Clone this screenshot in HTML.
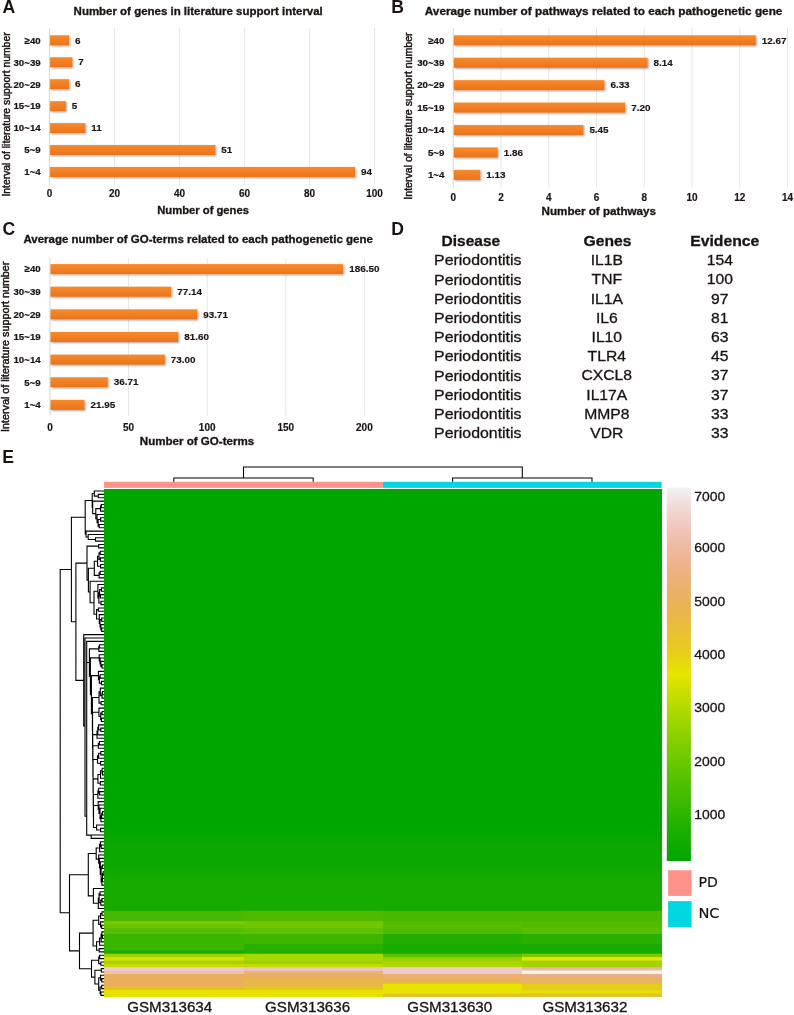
<!DOCTYPE html>
<html><head><meta charset="utf-8"><title>Figure</title><style>html,body{margin:0;padding:0;background:#fff}svg{display:block}</style></head><body>
<svg width="794" height="1015" viewBox="0 0 794 1015">
<defs>
<linearGradient id="bar" x1="0" y1="0" x2="0" y2="1"><stop offset="0" stop-color="#f68a2e"/><stop offset="0.5" stop-color="#f27f22"/><stop offset="1" stop-color="#e9741c"/></linearGradient>
<filter id="sh" x="-5%" y="-30%" width="110%" height="180%"><feGaussianBlur in="SourceAlpha" stdDeviation="0.9"/><feOffset dx="0.6" dy="1.2" result="o"/><feComponentTransfer><feFuncA type="linear" slope="0.38"/></feComponentTransfer><feMerge><feMergeNode/><feMergeNode in="SourceGraphic"/></feMerge></filter>
</defs>
<rect width="794" height="1015" fill="#fff"/>
<line x1="49.60" y1="28" x2="49.60" y2="185.6" stroke="#d6d6d6" stroke-width="1"/>
<line x1="114.60" y1="28" x2="114.60" y2="185.6" stroke="#e6e6e6" stroke-width="1"/>
<line x1="179.60" y1="28" x2="179.60" y2="185.6" stroke="#e6e6e6" stroke-width="1"/>
<line x1="244.60" y1="28" x2="244.60" y2="185.6" stroke="#e6e6e6" stroke-width="1"/>
<line x1="309.60" y1="28" x2="309.60" y2="185.6" stroke="#e6e6e6" stroke-width="1"/>
<line x1="374.60" y1="28" x2="374.60" y2="185.6" stroke="#e6e6e6" stroke-width="1"/>
<g filter="url(#sh)">
<rect x="50.10" y="35.30" width="19.00" height="10" fill="url(#bar)"/>
<rect x="50.10" y="57.25" width="22.25" height="10" fill="url(#bar)"/>
<rect x="50.10" y="79.20" width="19.00" height="10" fill="url(#bar)"/>
<rect x="50.10" y="101.15" width="15.75" height="10" fill="url(#bar)"/>
<rect x="50.10" y="123.10" width="35.25" height="10" fill="url(#bar)"/>
<rect x="50.10" y="145.05" width="165.25" height="10" fill="url(#bar)"/>
<rect x="50.10" y="167.00" width="305.00" height="10" fill="url(#bar)"/>
</g>
<text x="75.10" y="43.50" font-size="9.9" font-family='"Liberation Sans", Arial, Helvetica, sans-serif' fill="#1a1311" font-weight="bold" stroke="#1a1311" stroke-width="0.15">6</text>
<text x="40.70" y="43.60" font-size="9.7" font-family='"Liberation Sans", Arial, Helvetica, sans-serif' fill="#1a1311" font-weight="bold" text-anchor="end" stroke="#1a1311" stroke-width="0.2">≥40</text>
<text x="78.35" y="65.45" font-size="9.9" font-family='"Liberation Sans", Arial, Helvetica, sans-serif' fill="#1a1311" font-weight="bold" stroke="#1a1311" stroke-width="0.15">7</text>
<text x="40.70" y="65.55" font-size="9.7" font-family='"Liberation Sans", Arial, Helvetica, sans-serif' fill="#1a1311" font-weight="bold" text-anchor="end" stroke="#1a1311" stroke-width="0.2">30~39</text>
<text x="75.10" y="87.40" font-size="9.9" font-family='"Liberation Sans", Arial, Helvetica, sans-serif' fill="#1a1311" font-weight="bold" stroke="#1a1311" stroke-width="0.15">6</text>
<text x="40.70" y="87.50" font-size="9.7" font-family='"Liberation Sans", Arial, Helvetica, sans-serif' fill="#1a1311" font-weight="bold" text-anchor="end" stroke="#1a1311" stroke-width="0.2">20~29</text>
<text x="71.85" y="109.35" font-size="9.9" font-family='"Liberation Sans", Arial, Helvetica, sans-serif' fill="#1a1311" font-weight="bold" stroke="#1a1311" stroke-width="0.15">5</text>
<text x="40.70" y="109.45" font-size="9.7" font-family='"Liberation Sans", Arial, Helvetica, sans-serif' fill="#1a1311" font-weight="bold" text-anchor="end" stroke="#1a1311" stroke-width="0.2">15~19</text>
<text x="91.35" y="131.30" font-size="9.9" font-family='"Liberation Sans", Arial, Helvetica, sans-serif' fill="#1a1311" font-weight="bold" stroke="#1a1311" stroke-width="0.15">11</text>
<text x="40.70" y="131.40" font-size="9.7" font-family='"Liberation Sans", Arial, Helvetica, sans-serif' fill="#1a1311" font-weight="bold" text-anchor="end" stroke="#1a1311" stroke-width="0.2">10~14</text>
<text x="221.35" y="153.25" font-size="9.9" font-family='"Liberation Sans", Arial, Helvetica, sans-serif' fill="#1a1311" font-weight="bold" stroke="#1a1311" stroke-width="0.15">51</text>
<text x="40.70" y="153.35" font-size="9.7" font-family='"Liberation Sans", Arial, Helvetica, sans-serif' fill="#1a1311" font-weight="bold" text-anchor="end" stroke="#1a1311" stroke-width="0.2">5~9</text>
<text x="361.10" y="175.20" font-size="9.9" font-family='"Liberation Sans", Arial, Helvetica, sans-serif' fill="#1a1311" font-weight="bold" stroke="#1a1311" stroke-width="0.15">94</text>
<text x="40.70" y="175.30" font-size="9.7" font-family='"Liberation Sans", Arial, Helvetica, sans-serif' fill="#1a1311" font-weight="bold" text-anchor="end" stroke="#1a1311" stroke-width="0.2">1~4</text>
<text x="49.60" y="197.30" font-size="10" font-family='"Liberation Sans", Arial, Helvetica, sans-serif' fill="#1a1311" font-weight="bold" text-anchor="middle" stroke="#1a1311" stroke-width="0.15">0</text>
<text x="114.60" y="197.30" font-size="10" font-family='"Liberation Sans", Arial, Helvetica, sans-serif' fill="#1a1311" font-weight="bold" text-anchor="middle" stroke="#1a1311" stroke-width="0.15">20</text>
<text x="179.60" y="197.30" font-size="10" font-family='"Liberation Sans", Arial, Helvetica, sans-serif' fill="#1a1311" font-weight="bold" text-anchor="middle" stroke="#1a1311" stroke-width="0.15">40</text>
<text x="244.60" y="197.30" font-size="10" font-family='"Liberation Sans", Arial, Helvetica, sans-serif' fill="#1a1311" font-weight="bold" text-anchor="middle" stroke="#1a1311" stroke-width="0.15">60</text>
<text x="309.60" y="197.30" font-size="10" font-family='"Liberation Sans", Arial, Helvetica, sans-serif' fill="#1a1311" font-weight="bold" text-anchor="middle" stroke="#1a1311" stroke-width="0.15">80</text>
<text x="374.60" y="197.30" font-size="10" font-family='"Liberation Sans", Arial, Helvetica, sans-serif' fill="#1a1311" font-weight="bold" text-anchor="middle" stroke="#1a1311" stroke-width="0.15">100</text>
<text x="73.60" y="15.10" font-size="10.5" font-family='"Liberation Sans", Arial, Helvetica, sans-serif' fill="#1a1311" font-weight="bold" textLength="249.20" lengthAdjust="spacingAndGlyphs" stroke="#1a1311" stroke-width="0.3">Number of genes in literature support interval</text>
<text x="203.10" y="214.00" font-size="10.5" font-family='"Liberation Sans", Arial, Helvetica, sans-serif' fill="#1a1311" font-weight="bold" text-anchor="middle" textLength="91.80" lengthAdjust="spacingAndGlyphs" stroke="#1a1311" stroke-width="0.3">Number of genes</text>
<text x="9.50" y="114.50" font-size="10.2" font-family='"Liberation Sans", Arial, Helvetica, sans-serif' fill="#1a1311" text-anchor="middle" textLength="164.20" lengthAdjust="spacingAndGlyphs" stroke="#1a1311" stroke-width="0.45" transform="rotate(-90 9.50 114.50)">Interval of literature support number</text>
<line x1="453.30" y1="28" x2="453.30" y2="187.5" stroke="#d6d6d6" stroke-width="1"/>
<line x1="501.04" y1="28" x2="501.04" y2="187.5" stroke="#e6e6e6" stroke-width="1"/>
<line x1="548.78" y1="28" x2="548.78" y2="187.5" stroke="#e6e6e6" stroke-width="1"/>
<line x1="596.52" y1="28" x2="596.52" y2="187.5" stroke="#e6e6e6" stroke-width="1"/>
<line x1="644.26" y1="28" x2="644.26" y2="187.5" stroke="#e6e6e6" stroke-width="1"/>
<line x1="692.00" y1="28" x2="692.00" y2="187.5" stroke="#e6e6e6" stroke-width="1"/>
<line x1="739.74" y1="28" x2="739.74" y2="187.5" stroke="#e6e6e6" stroke-width="1"/>
<line x1="787.48" y1="28" x2="787.48" y2="187.5" stroke="#e6e6e6" stroke-width="1"/>
<g filter="url(#sh)">
<rect x="453.80" y="35.30" width="301.93" height="10" fill="url(#bar)"/>
<rect x="453.80" y="57.73" width="193.80" height="10" fill="url(#bar)"/>
<rect x="453.80" y="80.16" width="150.60" height="10" fill="url(#bar)"/>
<rect x="453.80" y="102.59" width="171.36" height="10" fill="url(#bar)"/>
<rect x="453.80" y="125.02" width="129.59" height="10" fill="url(#bar)"/>
<rect x="453.80" y="147.45" width="43.90" height="10" fill="url(#bar)"/>
<rect x="453.80" y="169.88" width="26.47" height="10" fill="url(#bar)"/>
</g>
<text x="761.73" y="43.50" font-size="9.9" font-family='"Liberation Sans", Arial, Helvetica, sans-serif' fill="#1a1311" font-weight="bold" stroke="#1a1311" stroke-width="0.15">12.67</text>
<text x="444.40" y="43.60" font-size="9.7" font-family='"Liberation Sans", Arial, Helvetica, sans-serif' fill="#1a1311" font-weight="bold" text-anchor="end" stroke="#1a1311" stroke-width="0.2">≥40</text>
<text x="653.60" y="65.93" font-size="9.9" font-family='"Liberation Sans", Arial, Helvetica, sans-serif' fill="#1a1311" font-weight="bold" stroke="#1a1311" stroke-width="0.15">8.14</text>
<text x="444.40" y="66.03" font-size="9.7" font-family='"Liberation Sans", Arial, Helvetica, sans-serif' fill="#1a1311" font-weight="bold" text-anchor="end" stroke="#1a1311" stroke-width="0.2">30~39</text>
<text x="610.40" y="88.36" font-size="9.9" font-family='"Liberation Sans", Arial, Helvetica, sans-serif' fill="#1a1311" font-weight="bold" stroke="#1a1311" stroke-width="0.15">6.33</text>
<text x="444.40" y="88.46" font-size="9.7" font-family='"Liberation Sans", Arial, Helvetica, sans-serif' fill="#1a1311" font-weight="bold" text-anchor="end" stroke="#1a1311" stroke-width="0.2">20~29</text>
<text x="631.16" y="110.79" font-size="9.9" font-family='"Liberation Sans", Arial, Helvetica, sans-serif' fill="#1a1311" font-weight="bold" stroke="#1a1311" stroke-width="0.15">7.20</text>
<text x="444.40" y="110.89" font-size="9.7" font-family='"Liberation Sans", Arial, Helvetica, sans-serif' fill="#1a1311" font-weight="bold" text-anchor="end" stroke="#1a1311" stroke-width="0.2">15~19</text>
<text x="589.39" y="133.22" font-size="9.9" font-family='"Liberation Sans", Arial, Helvetica, sans-serif' fill="#1a1311" font-weight="bold" stroke="#1a1311" stroke-width="0.15">5.45</text>
<text x="444.40" y="133.32" font-size="9.7" font-family='"Liberation Sans", Arial, Helvetica, sans-serif' fill="#1a1311" font-weight="bold" text-anchor="end" stroke="#1a1311" stroke-width="0.2">10~14</text>
<text x="503.70" y="155.65" font-size="9.9" font-family='"Liberation Sans", Arial, Helvetica, sans-serif' fill="#1a1311" font-weight="bold" stroke="#1a1311" stroke-width="0.15">1.86</text>
<text x="444.40" y="155.75" font-size="9.7" font-family='"Liberation Sans", Arial, Helvetica, sans-serif' fill="#1a1311" font-weight="bold" text-anchor="end" stroke="#1a1311" stroke-width="0.2">5~9</text>
<text x="486.27" y="178.08" font-size="9.9" font-family='"Liberation Sans", Arial, Helvetica, sans-serif' fill="#1a1311" font-weight="bold" stroke="#1a1311" stroke-width="0.15">1.13</text>
<text x="444.40" y="178.18" font-size="9.7" font-family='"Liberation Sans", Arial, Helvetica, sans-serif' fill="#1a1311" font-weight="bold" text-anchor="end" stroke="#1a1311" stroke-width="0.2">1~4</text>
<text x="453.30" y="200.90" font-size="10" font-family='"Liberation Sans", Arial, Helvetica, sans-serif' fill="#1a1311" font-weight="bold" text-anchor="middle" stroke="#1a1311" stroke-width="0.15">0</text>
<text x="501.04" y="200.90" font-size="10" font-family='"Liberation Sans", Arial, Helvetica, sans-serif' fill="#1a1311" font-weight="bold" text-anchor="middle" stroke="#1a1311" stroke-width="0.15">2</text>
<text x="548.78" y="200.90" font-size="10" font-family='"Liberation Sans", Arial, Helvetica, sans-serif' fill="#1a1311" font-weight="bold" text-anchor="middle" stroke="#1a1311" stroke-width="0.15">4</text>
<text x="596.52" y="200.90" font-size="10" font-family='"Liberation Sans", Arial, Helvetica, sans-serif' fill="#1a1311" font-weight="bold" text-anchor="middle" stroke="#1a1311" stroke-width="0.15">6</text>
<text x="644.26" y="200.90" font-size="10" font-family='"Liberation Sans", Arial, Helvetica, sans-serif' fill="#1a1311" font-weight="bold" text-anchor="middle" stroke="#1a1311" stroke-width="0.15">8</text>
<text x="692.00" y="200.90" font-size="10" font-family='"Liberation Sans", Arial, Helvetica, sans-serif' fill="#1a1311" font-weight="bold" text-anchor="middle" stroke="#1a1311" stroke-width="0.15">10</text>
<text x="739.74" y="200.90" font-size="10" font-family='"Liberation Sans", Arial, Helvetica, sans-serif' fill="#1a1311" font-weight="bold" text-anchor="middle" stroke="#1a1311" stroke-width="0.15">12</text>
<text x="787.48" y="200.90" font-size="10" font-family='"Liberation Sans", Arial, Helvetica, sans-serif' fill="#1a1311" font-weight="bold" text-anchor="middle" stroke="#1a1311" stroke-width="0.15">14</text>
<text x="424.80" y="15.10" font-size="10.5" font-family='"Liberation Sans", Arial, Helvetica, sans-serif' fill="#1a1311" font-weight="bold" textLength="357.60" lengthAdjust="spacingAndGlyphs" stroke="#1a1311" stroke-width="0.3">Average number of pathways related to each pathogenetic gene</text>
<text x="598.80" y="215.20" font-size="10.5" font-family='"Liberation Sans", Arial, Helvetica, sans-serif' fill="#1a1311" font-weight="bold" text-anchor="middle" textLength="114.40" lengthAdjust="spacingAndGlyphs" stroke="#1a1311" stroke-width="0.3">Number of pathways</text>
<text x="412.00" y="116.00" font-size="10.2" font-family='"Liberation Sans", Arial, Helvetica, sans-serif' fill="#1a1311" text-anchor="middle" textLength="167.30" lengthAdjust="spacingAndGlyphs" stroke="#1a1311" stroke-width="0.45" transform="rotate(-90 412.00 116.00)">Interval of literature support number</text>
<line x1="50.00" y1="258" x2="50.00" y2="415.6" stroke="#d6d6d6" stroke-width="1"/>
<line x1="128.60" y1="258" x2="128.60" y2="415.6" stroke="#e6e6e6" stroke-width="1"/>
<line x1="207.20" y1="258" x2="207.20" y2="415.6" stroke="#e6e6e6" stroke-width="1"/>
<line x1="285.80" y1="258" x2="285.80" y2="415.6" stroke="#e6e6e6" stroke-width="1"/>
<line x1="364.40" y1="258" x2="364.40" y2="415.6" stroke="#e6e6e6" stroke-width="1"/>
<g filter="url(#sh)">
<rect x="50.50" y="264.10" width="292.68" height="10" fill="url(#bar)"/>
<rect x="50.50" y="286.73" width="120.76" height="10" fill="url(#bar)"/>
<rect x="50.50" y="309.36" width="146.81" height="10" fill="url(#bar)"/>
<rect x="50.50" y="331.99" width="127.78" height="10" fill="url(#bar)"/>
<rect x="50.50" y="354.62" width="114.26" height="10" fill="url(#bar)"/>
<rect x="50.50" y="377.25" width="57.21" height="10" fill="url(#bar)"/>
<rect x="50.50" y="399.88" width="34.01" height="10" fill="url(#bar)"/>
</g>
<text x="349.18" y="272.30" font-size="9.9" font-family='"Liberation Sans", Arial, Helvetica, sans-serif' fill="#1a1311" font-weight="bold" stroke="#1a1311" stroke-width="0.15">186.50</text>
<text x="40.70" y="272.40" font-size="9.7" font-family='"Liberation Sans", Arial, Helvetica, sans-serif' fill="#1a1311" font-weight="bold" text-anchor="end" stroke="#1a1311" stroke-width="0.2">≥40</text>
<text x="177.26" y="294.93" font-size="9.9" font-family='"Liberation Sans", Arial, Helvetica, sans-serif' fill="#1a1311" font-weight="bold" stroke="#1a1311" stroke-width="0.15">77.14</text>
<text x="40.70" y="295.03" font-size="9.7" font-family='"Liberation Sans", Arial, Helvetica, sans-serif' fill="#1a1311" font-weight="bold" text-anchor="end" stroke="#1a1311" stroke-width="0.2">30~39</text>
<text x="203.31" y="317.56" font-size="9.9" font-family='"Liberation Sans", Arial, Helvetica, sans-serif' fill="#1a1311" font-weight="bold" stroke="#1a1311" stroke-width="0.15">93.71</text>
<text x="40.70" y="317.66" font-size="9.7" font-family='"Liberation Sans", Arial, Helvetica, sans-serif' fill="#1a1311" font-weight="bold" text-anchor="end" stroke="#1a1311" stroke-width="0.2">20~29</text>
<text x="184.28" y="340.19" font-size="9.9" font-family='"Liberation Sans", Arial, Helvetica, sans-serif' fill="#1a1311" font-weight="bold" stroke="#1a1311" stroke-width="0.15">81.60</text>
<text x="40.70" y="340.29" font-size="9.7" font-family='"Liberation Sans", Arial, Helvetica, sans-serif' fill="#1a1311" font-weight="bold" text-anchor="end" stroke="#1a1311" stroke-width="0.2">15~19</text>
<text x="170.76" y="362.82" font-size="9.9" font-family='"Liberation Sans", Arial, Helvetica, sans-serif' fill="#1a1311" font-weight="bold" stroke="#1a1311" stroke-width="0.15">73.00</text>
<text x="40.70" y="362.92" font-size="9.7" font-family='"Liberation Sans", Arial, Helvetica, sans-serif' fill="#1a1311" font-weight="bold" text-anchor="end" stroke="#1a1311" stroke-width="0.2">10~14</text>
<text x="113.71" y="385.45" font-size="9.9" font-family='"Liberation Sans", Arial, Helvetica, sans-serif' fill="#1a1311" font-weight="bold" stroke="#1a1311" stroke-width="0.15">36.71</text>
<text x="40.70" y="385.55" font-size="9.7" font-family='"Liberation Sans", Arial, Helvetica, sans-serif' fill="#1a1311" font-weight="bold" text-anchor="end" stroke="#1a1311" stroke-width="0.2">5~9</text>
<text x="90.51" y="408.08" font-size="9.9" font-family='"Liberation Sans", Arial, Helvetica, sans-serif' fill="#1a1311" font-weight="bold" stroke="#1a1311" stroke-width="0.15">21.95</text>
<text x="40.70" y="408.18" font-size="9.7" font-family='"Liberation Sans", Arial, Helvetica, sans-serif' fill="#1a1311" font-weight="bold" text-anchor="end" stroke="#1a1311" stroke-width="0.2">1~4</text>
<text x="50.00" y="431.00" font-size="10" font-family='"Liberation Sans", Arial, Helvetica, sans-serif' fill="#1a1311" font-weight="bold" text-anchor="middle" stroke="#1a1311" stroke-width="0.15">0</text>
<text x="128.60" y="431.00" font-size="10" font-family='"Liberation Sans", Arial, Helvetica, sans-serif' fill="#1a1311" font-weight="bold" text-anchor="middle" stroke="#1a1311" stroke-width="0.15">50</text>
<text x="207.20" y="431.00" font-size="10" font-family='"Liberation Sans", Arial, Helvetica, sans-serif' fill="#1a1311" font-weight="bold" text-anchor="middle" stroke="#1a1311" stroke-width="0.15">100</text>
<text x="285.80" y="431.00" font-size="10" font-family='"Liberation Sans", Arial, Helvetica, sans-serif' fill="#1a1311" font-weight="bold" text-anchor="middle" stroke="#1a1311" stroke-width="0.15">150</text>
<text x="364.40" y="431.00" font-size="10" font-family='"Liberation Sans", Arial, Helvetica, sans-serif' fill="#1a1311" font-weight="bold" text-anchor="middle" stroke="#1a1311" stroke-width="0.15">200</text>
<text x="23.40" y="242.50" font-size="10.5" font-family='"Liberation Sans", Arial, Helvetica, sans-serif' fill="#1a1311" font-weight="bold" textLength="349.40" lengthAdjust="spacingAndGlyphs" stroke="#1a1311" stroke-width="0.3">Average number of GO-terms related to each pathogenetic gene</text>
<text x="197.00" y="445.00" font-size="10.5" font-family='"Liberation Sans", Arial, Helvetica, sans-serif' fill="#1a1311" font-weight="bold" text-anchor="middle" textLength="114.40" lengthAdjust="spacingAndGlyphs" stroke="#1a1311" stroke-width="0.3">Number of GO-terms</text>
<text x="9.50" y="346.80" font-size="10.2" font-family='"Liberation Sans", Arial, Helvetica, sans-serif' fill="#1a1311" text-anchor="middle" textLength="170.40" lengthAdjust="spacingAndGlyphs" stroke="#1a1311" stroke-width="0.45" transform="rotate(-90 9.50 346.80)">Interval of literature support number</text>
<text x="2.60" y="13.40" font-size="17.6" font-family='"Liberation Sans", Arial, Helvetica, sans-serif' fill="#1a1311" font-weight="bold">A</text>
<text x="391.30" y="13.00" font-size="17.6" font-family='"Liberation Sans", Arial, Helvetica, sans-serif' fill="#1a1311" font-weight="bold">B</text>
<text x="2.40" y="234.80" font-size="17.6" font-family='"Liberation Sans", Arial, Helvetica, sans-serif' fill="#1a1311" font-weight="bold">C</text>
<text x="391.30" y="234.80" font-size="17.6" font-family='"Liberation Sans", Arial, Helvetica, sans-serif' fill="#1a1311" font-weight="bold">D</text>
<text x="2.30" y="463.20" font-size="17.6" font-family='"Liberation Sans", Arial, Helvetica, sans-serif' fill="#1a1311" font-weight="bold">E</text>
<text x="441.60" y="246.40" font-size="14.6" font-family='"Liberation Sans", Arial, Helvetica, sans-serif' fill="#1a1311" font-weight="bold" textLength="58.60" lengthAdjust="spacingAndGlyphs" stroke="#1a1311" stroke-width="0.3">Disease</text>
<text x="583.50" y="246.40" font-size="14.6" font-family='"Liberation Sans", Arial, Helvetica, sans-serif' fill="#1a1311" font-weight="bold" textLength="48.00" lengthAdjust="spacingAndGlyphs" stroke="#1a1311" stroke-width="0.3">Genes</text>
<text x="690.20" y="246.40" font-size="14.6" font-family='"Liberation Sans", Arial, Helvetica, sans-serif' fill="#1a1311" font-weight="bold" textLength="69.20" lengthAdjust="spacingAndGlyphs" stroke="#1a1311" stroke-width="0.3">Evidence</text>
<text x="434.10" y="265.30" font-size="14.4" font-family='"Liberation Sans", Arial, Helvetica, sans-serif' fill="#1a1311" textLength="87.40" lengthAdjust="spacingAndGlyphs" stroke="#1a1311" stroke-width="0.3">Periodontitis</text>
<text x="606.80" y="265.30" font-size="14.4" font-family='"Liberation Sans", Arial, Helvetica, sans-serif' fill="#1a1311" text-anchor="middle" stroke="#1a1311" stroke-width="0.3" transform="translate(606.8 0) scale(1.09 1) translate(-606.8 0)">IL1B</text>
<text x="719.80" y="265.30" font-size="14.4" font-family='"Liberation Sans", Arial, Helvetica, sans-serif' fill="#1a1311" text-anchor="middle" stroke="#1a1311" stroke-width="0.3" transform="translate(719.8 0) scale(1.09 1) translate(-719.8 0)">154</text>
<text x="434.10" y="284.50" font-size="14.4" font-family='"Liberation Sans", Arial, Helvetica, sans-serif' fill="#1a1311" textLength="87.40" lengthAdjust="spacingAndGlyphs" stroke="#1a1311" stroke-width="0.3">Periodontitis</text>
<text x="606.80" y="284.50" font-size="14.4" font-family='"Liberation Sans", Arial, Helvetica, sans-serif' fill="#1a1311" text-anchor="middle" stroke="#1a1311" stroke-width="0.3" transform="translate(606.8 0) scale(1.09 1) translate(-606.8 0)">TNF</text>
<text x="719.80" y="284.50" font-size="14.4" font-family='"Liberation Sans", Arial, Helvetica, sans-serif' fill="#1a1311" text-anchor="middle" stroke="#1a1311" stroke-width="0.3" transform="translate(719.8 0) scale(1.09 1) translate(-719.8 0)">100</text>
<text x="434.10" y="303.70" font-size="14.4" font-family='"Liberation Sans", Arial, Helvetica, sans-serif' fill="#1a1311" textLength="87.40" lengthAdjust="spacingAndGlyphs" stroke="#1a1311" stroke-width="0.3">Periodontitis</text>
<text x="606.80" y="303.70" font-size="14.4" font-family='"Liberation Sans", Arial, Helvetica, sans-serif' fill="#1a1311" text-anchor="middle" stroke="#1a1311" stroke-width="0.3" transform="translate(606.8 0) scale(1.09 1) translate(-606.8 0)">IL1A</text>
<text x="719.80" y="303.70" font-size="14.4" font-family='"Liberation Sans", Arial, Helvetica, sans-serif' fill="#1a1311" text-anchor="middle" stroke="#1a1311" stroke-width="0.3" transform="translate(719.8 0) scale(1.09 1) translate(-719.8 0)">97</text>
<text x="434.10" y="322.90" font-size="14.4" font-family='"Liberation Sans", Arial, Helvetica, sans-serif' fill="#1a1311" textLength="87.40" lengthAdjust="spacingAndGlyphs" stroke="#1a1311" stroke-width="0.3">Periodontitis</text>
<text x="606.80" y="322.90" font-size="14.4" font-family='"Liberation Sans", Arial, Helvetica, sans-serif' fill="#1a1311" text-anchor="middle" stroke="#1a1311" stroke-width="0.3" transform="translate(606.8 0) scale(1.09 1) translate(-606.8 0)">IL6</text>
<text x="719.80" y="322.90" font-size="14.4" font-family='"Liberation Sans", Arial, Helvetica, sans-serif' fill="#1a1311" text-anchor="middle" stroke="#1a1311" stroke-width="0.3" transform="translate(719.8 0) scale(1.09 1) translate(-719.8 0)">81</text>
<text x="434.10" y="342.10" font-size="14.4" font-family='"Liberation Sans", Arial, Helvetica, sans-serif' fill="#1a1311" textLength="87.40" lengthAdjust="spacingAndGlyphs" stroke="#1a1311" stroke-width="0.3">Periodontitis</text>
<text x="606.80" y="342.10" font-size="14.4" font-family='"Liberation Sans", Arial, Helvetica, sans-serif' fill="#1a1311" text-anchor="middle" stroke="#1a1311" stroke-width="0.3" transform="translate(606.8 0) scale(1.09 1) translate(-606.8 0)">IL10</text>
<text x="719.80" y="342.10" font-size="14.4" font-family='"Liberation Sans", Arial, Helvetica, sans-serif' fill="#1a1311" text-anchor="middle" stroke="#1a1311" stroke-width="0.3" transform="translate(719.8 0) scale(1.09 1) translate(-719.8 0)">63</text>
<text x="434.10" y="361.30" font-size="14.4" font-family='"Liberation Sans", Arial, Helvetica, sans-serif' fill="#1a1311" textLength="87.40" lengthAdjust="spacingAndGlyphs" stroke="#1a1311" stroke-width="0.3">Periodontitis</text>
<text x="606.80" y="361.30" font-size="14.4" font-family='"Liberation Sans", Arial, Helvetica, sans-serif' fill="#1a1311" text-anchor="middle" stroke="#1a1311" stroke-width="0.3" transform="translate(606.8 0) scale(1.09 1) translate(-606.8 0)">TLR4</text>
<text x="719.80" y="361.30" font-size="14.4" font-family='"Liberation Sans", Arial, Helvetica, sans-serif' fill="#1a1311" text-anchor="middle" stroke="#1a1311" stroke-width="0.3" transform="translate(719.8 0) scale(1.09 1) translate(-719.8 0)">45</text>
<text x="434.10" y="380.50" font-size="14.4" font-family='"Liberation Sans", Arial, Helvetica, sans-serif' fill="#1a1311" textLength="87.40" lengthAdjust="spacingAndGlyphs" stroke="#1a1311" stroke-width="0.3">Periodontitis</text>
<text x="606.80" y="380.50" font-size="14.4" font-family='"Liberation Sans", Arial, Helvetica, sans-serif' fill="#1a1311" text-anchor="middle" stroke="#1a1311" stroke-width="0.3" transform="translate(606.8 0) scale(1.09 1) translate(-606.8 0)">CXCL8</text>
<text x="719.80" y="380.50" font-size="14.4" font-family='"Liberation Sans", Arial, Helvetica, sans-serif' fill="#1a1311" text-anchor="middle" stroke="#1a1311" stroke-width="0.3" transform="translate(719.8 0) scale(1.09 1) translate(-719.8 0)">37</text>
<text x="434.10" y="399.70" font-size="14.4" font-family='"Liberation Sans", Arial, Helvetica, sans-serif' fill="#1a1311" textLength="87.40" lengthAdjust="spacingAndGlyphs" stroke="#1a1311" stroke-width="0.3">Periodontitis</text>
<text x="606.80" y="399.70" font-size="14.4" font-family='"Liberation Sans", Arial, Helvetica, sans-serif' fill="#1a1311" text-anchor="middle" stroke="#1a1311" stroke-width="0.3" transform="translate(606.8 0) scale(1.09 1) translate(-606.8 0)">IL17A</text>
<text x="719.80" y="399.70" font-size="14.4" font-family='"Liberation Sans", Arial, Helvetica, sans-serif' fill="#1a1311" text-anchor="middle" stroke="#1a1311" stroke-width="0.3" transform="translate(719.8 0) scale(1.09 1) translate(-719.8 0)">37</text>
<text x="434.10" y="418.90" font-size="14.4" font-family='"Liberation Sans", Arial, Helvetica, sans-serif' fill="#1a1311" textLength="87.40" lengthAdjust="spacingAndGlyphs" stroke="#1a1311" stroke-width="0.3">Periodontitis</text>
<text x="606.80" y="418.90" font-size="14.4" font-family='"Liberation Sans", Arial, Helvetica, sans-serif' fill="#1a1311" text-anchor="middle" stroke="#1a1311" stroke-width="0.3" transform="translate(606.8 0) scale(1.09 1) translate(-606.8 0)">MMP8</text>
<text x="719.80" y="418.90" font-size="14.4" font-family='"Liberation Sans", Arial, Helvetica, sans-serif' fill="#1a1311" text-anchor="middle" stroke="#1a1311" stroke-width="0.3" transform="translate(719.8 0) scale(1.09 1) translate(-719.8 0)">33</text>
<text x="434.10" y="438.10" font-size="14.4" font-family='"Liberation Sans", Arial, Helvetica, sans-serif' fill="#1a1311" textLength="87.40" lengthAdjust="spacingAndGlyphs" stroke="#1a1311" stroke-width="0.3">Periodontitis</text>
<text x="606.80" y="438.10" font-size="14.4" font-family='"Liberation Sans", Arial, Helvetica, sans-serif' fill="#1a1311" text-anchor="middle" stroke="#1a1311" stroke-width="0.3" transform="translate(606.8 0) scale(1.09 1) translate(-606.8 0)">VDR</text>
<text x="719.80" y="438.10" font-size="14.4" font-family='"Liberation Sans", Arial, Helvetica, sans-serif' fill="#1a1311" text-anchor="middle" stroke="#1a1311" stroke-width="0.3" transform="translate(719.8 0) scale(1.09 1) translate(-719.8 0)">33</text>
<rect x="104.1" y="481.8" width="278.80" height="6.1" fill="#ff9289"/>
<rect x="382.90" y="481.8" width="278.80" height="6.1" fill="#00d7e0"/>
<path d="M173.8 481.8V477.9H313.2V481.8 M452.6 481.8V477.9H592.0V481.8 M243.5 477.9V466.9H522.3V477.9" fill="none" stroke="#000" stroke-width="1.05"/>
<linearGradient id="hc0" x1="0" y1="0" x2="0" y2="1"><stop offset="0.00000" stop-color="#00a600"/><stop offset="0.66509" stop-color="#00a600"/><stop offset="0.69661" stop-color="#0aa800"/><stop offset="0.73798" stop-color="#0aa800"/><stop offset="0.76950" stop-color="#17ab00"/><stop offset="0.82929" stop-color="#17ab00"/><stop offset="0.83107" stop-color="#48b900"/><stop offset="0.84978" stop-color="#48b900"/><stop offset="0.85156" stop-color="#7bcb00"/><stop offset="0.85648" stop-color="#7bcb00"/><stop offset="0.85825" stop-color="#68c300"/><stop offset="0.86338" stop-color="#68c300"/><stop offset="0.86515" stop-color="#56bd00"/><stop offset="0.87500" stop-color="#56bd00"/><stop offset="0.87677" stop-color="#3ab500"/><stop offset="0.90711" stop-color="#3ab500"/><stop offset="0.90888" stop-color="#1eac00"/><stop offset="0.91381" stop-color="#1eac00"/><stop offset="0.91558" stop-color="#a0d200"/><stop offset="0.92051" stop-color="#a0d200"/><stop offset="0.92228" stop-color="#d8e000"/><stop offset="0.92740" stop-color="#d8e000"/><stop offset="0.92918" stop-color="#a5d500"/><stop offset="0.93410" stop-color="#a5d500"/><stop offset="0.93587" stop-color="#c8dc00"/><stop offset="0.94041" stop-color="#c8dc00"/><stop offset="0.94218" stop-color="#f0ccc8"/><stop offset="0.94770" stop-color="#f0ccc8"/><stop offset="0.94947" stop-color="#eec0b0"/><stop offset="0.95400" stop-color="#eec0b0"/><stop offset="0.95577" stop-color="#e9af5e"/><stop offset="0.97882" stop-color="#e9af5e"/><stop offset="0.98059" stop-color="#e6c020"/><stop offset="0.98552" stop-color="#e6c020"/><stop offset="0.98729" stop-color="#e6e200"/><stop offset="1.00000" stop-color="#e6e200"/></linearGradient>
<rect x="104.10" y="489.4" width="139.80" height="507.60" fill="url(#hc0)" shape-rendering="crispEdges"/>
<linearGradient id="hc1" x1="0" y1="0" x2="0" y2="1"><stop offset="0.00000" stop-color="#00a600"/><stop offset="0.66509" stop-color="#00a600"/><stop offset="0.69661" stop-color="#0aa800"/><stop offset="0.73798" stop-color="#0aa800"/><stop offset="0.76950" stop-color="#17ab00"/><stop offset="0.82929" stop-color="#17ab00"/><stop offset="0.83107" stop-color="#4fba00"/><stop offset="0.84978" stop-color="#4fba00"/><stop offset="0.85156" stop-color="#70c600"/><stop offset="0.86338" stop-color="#70c600"/><stop offset="0.86515" stop-color="#60c000"/><stop offset="0.87500" stop-color="#60c000"/><stop offset="0.87677" stop-color="#3db600"/><stop offset="0.89529" stop-color="#3db600"/><stop offset="0.89706" stop-color="#26ae00"/><stop offset="0.91381" stop-color="#26ae00"/><stop offset="0.91558" stop-color="#a8d800"/><stop offset="0.92051" stop-color="#a8d800"/><stop offset="0.92228" stop-color="#a8d800"/><stop offset="0.92740" stop-color="#a8d800"/><stop offset="0.92918" stop-color="#9cd200"/><stop offset="0.93410" stop-color="#9cd200"/><stop offset="0.93587" stop-color="#c0dc00"/><stop offset="0.94041" stop-color="#c0dc00"/><stop offset="0.94218" stop-color="#efc4b8"/><stop offset="0.94770" stop-color="#efc4b8"/><stop offset="0.94947" stop-color="#ebb080"/><stop offset="0.95400" stop-color="#ebb080"/><stop offset="0.95577" stop-color="#e9b05c"/><stop offset="0.96562" stop-color="#e9b05c"/><stop offset="0.96740" stop-color="#e8b848"/><stop offset="0.97882" stop-color="#e8b848"/><stop offset="0.98059" stop-color="#e6c818"/><stop offset="0.98552" stop-color="#e6c818"/><stop offset="0.98729" stop-color="#e6e200"/><stop offset="1.00000" stop-color="#e6e200"/></linearGradient>
<rect x="243.50" y="489.4" width="139.80" height="507.60" fill="url(#hc1)" shape-rendering="crispEdges"/>
<linearGradient id="hc2" x1="0" y1="0" x2="0" y2="1"><stop offset="0.00000" stop-color="#00a600"/><stop offset="0.66509" stop-color="#00a600"/><stop offset="0.69661" stop-color="#0aa800"/><stop offset="0.73798" stop-color="#0aa800"/><stop offset="0.76950" stop-color="#17ab00"/><stop offset="0.82929" stop-color="#17ab00"/><stop offset="0.83107" stop-color="#48b800"/><stop offset="0.84978" stop-color="#48b800"/><stop offset="0.85156" stop-color="#55bc00"/><stop offset="0.86338" stop-color="#55bc00"/><stop offset="0.86515" stop-color="#50bb00"/><stop offset="0.87500" stop-color="#50bb00"/><stop offset="0.87677" stop-color="#22ad00"/><stop offset="0.89529" stop-color="#22ad00"/><stop offset="0.89706" stop-color="#18ab00"/><stop offset="0.91381" stop-color="#18ab00"/><stop offset="0.91558" stop-color="#60c000"/><stop offset="0.92051" stop-color="#60c000"/><stop offset="0.92228" stop-color="#98d000"/><stop offset="0.92740" stop-color="#98d000"/><stop offset="0.92918" stop-color="#a8d600"/><stop offset="0.93410" stop-color="#a8d600"/><stop offset="0.93587" stop-color="#b0d800"/><stop offset="0.94041" stop-color="#b0d800"/><stop offset="0.94218" stop-color="#efccc8"/><stop offset="0.95361" stop-color="#efccc8"/><stop offset="0.95538" stop-color="#ebb070"/><stop offset="0.96326" stop-color="#ebb070"/><stop offset="0.96503" stop-color="#e8b450"/><stop offset="0.97291" stop-color="#e8b450"/><stop offset="0.97468" stop-color="#e6e400"/><stop offset="0.99242" stop-color="#e6e400"/><stop offset="0.99419" stop-color="#e6c030"/><stop offset="1.00000" stop-color="#e6c030"/></linearGradient>
<rect x="382.90" y="489.4" width="139.80" height="507.60" fill="url(#hc2)" shape-rendering="crispEdges"/>
<linearGradient id="hc3" x1="0" y1="0" x2="0" y2="1"><stop offset="0.00000" stop-color="#00a600"/><stop offset="0.66509" stop-color="#00a600"/><stop offset="0.69661" stop-color="#0aa800"/><stop offset="0.73798" stop-color="#0aa800"/><stop offset="0.76950" stop-color="#17ab00"/><stop offset="0.82929" stop-color="#17ab00"/><stop offset="0.83107" stop-color="#48b800"/><stop offset="0.84978" stop-color="#48b800"/><stop offset="0.85156" stop-color="#50bb00"/><stop offset="0.86338" stop-color="#50bb00"/><stop offset="0.86515" stop-color="#58be00"/><stop offset="0.87500" stop-color="#58be00"/><stop offset="0.87677" stop-color="#28af00"/><stop offset="0.89529" stop-color="#28af00"/><stop offset="0.89706" stop-color="#18ab00"/><stop offset="0.91381" stop-color="#18ab00"/><stop offset="0.91558" stop-color="#80c800"/><stop offset="0.92051" stop-color="#80c800"/><stop offset="0.92228" stop-color="#e6e400"/><stop offset="0.92740" stop-color="#e6e400"/><stop offset="0.92918" stop-color="#a0d400"/><stop offset="0.94041" stop-color="#a0d400"/><stop offset="0.94218" stop-color="#edb898"/><stop offset="0.94671" stop-color="#edb898"/><stop offset="0.94848" stop-color="#f2f2f2"/><stop offset="0.95361" stop-color="#f2f2f2"/><stop offset="0.95538" stop-color="#ebb080"/><stop offset="0.96030" stop-color="#ebb080"/><stop offset="0.96208" stop-color="#e8b458"/><stop offset="0.96621" stop-color="#e8b458"/><stop offset="0.96799" stop-color="#ebb070"/><stop offset="0.97291" stop-color="#ebb070"/><stop offset="0.97468" stop-color="#e6cc18"/><stop offset="0.98552" stop-color="#e6cc18"/><stop offset="0.98729" stop-color="#e0e000"/><stop offset="0.99242" stop-color="#e0e000"/><stop offset="0.99419" stop-color="#e6c030"/><stop offset="1.00000" stop-color="#e6c030"/></linearGradient>
<rect x="522.30" y="489.4" width="139.40" height="507.60" fill="url(#hc3)" shape-rendering="crispEdges"/>
<text x="127.20" y="1011.90" font-size="14.2" font-family='"Liberation Sans", Arial, Helvetica, sans-serif' fill="#1a1311" textLength="85.00" lengthAdjust="spacingAndGlyphs" stroke="#1a1311" stroke-width="0.3">GSM313634</text>
<text x="265.10" y="1011.90" font-size="14.2" font-family='"Liberation Sans", Arial, Helvetica, sans-serif' fill="#1a1311" textLength="85.00" lengthAdjust="spacingAndGlyphs" stroke="#1a1311" stroke-width="0.3">GSM313636</text>
<text x="407.20" y="1011.90" font-size="14.2" font-family='"Liberation Sans", Arial, Helvetica, sans-serif' fill="#1a1311" textLength="85.00" lengthAdjust="spacingAndGlyphs" stroke="#1a1311" stroke-width="0.3">GSM313630</text>
<text x="542.40" y="1011.90" font-size="14.2" font-family='"Liberation Sans", Arial, Helvetica, sans-serif' fill="#1a1311" textLength="85.00" lengthAdjust="spacingAndGlyphs" stroke="#1a1311" stroke-width="0.3">GSM313632</text>
<linearGradient id="cb" x1="0" y1="0" x2="0" y2="1"><stop offset="0.000" stop-color="#f2f2f2"/><stop offset="0.025" stop-color="#f2e6e6"/><stop offset="0.050" stop-color="#f1dbd9"/><stop offset="0.075" stop-color="#f0d2cc"/><stop offset="0.100" stop-color="#f0c9c0"/><stop offset="0.125" stop-color="#efc2b3"/><stop offset="0.150" stop-color="#eebca7"/><stop offset="0.175" stop-color="#eeb89b"/><stop offset="0.200" stop-color="#edb48e"/><stop offset="0.225" stop-color="#edb282"/><stop offset="0.250" stop-color="#ecb176"/><stop offset="0.275" stop-color="#ebb16a"/><stop offset="0.300" stop-color="#ebb25e"/><stop offset="0.325" stop-color="#eab552"/><stop offset="0.350" stop-color="#e9b846"/><stop offset="0.375" stop-color="#e9bd3a"/><stop offset="0.400" stop-color="#e8c32e"/><stop offset="0.425" stop-color="#e7ca23"/><stop offset="0.450" stop-color="#e7d217"/><stop offset="0.475" stop-color="#e6db0c"/><stop offset="0.500" stop-color="#e6e600"/><stop offset="0.525" stop-color="#d7e200"/><stop offset="0.550" stop-color="#c9df00"/><stop offset="0.575" stop-color="#bbdc00"/><stop offset="0.600" stop-color="#add900"/><stop offset="0.625" stop-color="#a0d600"/><stop offset="0.650" stop-color="#93d200"/><stop offset="0.675" stop-color="#87cf00"/><stop offset="0.700" stop-color="#7acc00"/><stop offset="0.725" stop-color="#6ec900"/><stop offset="0.750" stop-color="#63c600"/><stop offset="0.775" stop-color="#57c200"/><stop offset="0.800" stop-color="#4cbf00"/><stop offset="0.825" stop-color="#42bc00"/><stop offset="0.850" stop-color="#37b900"/><stop offset="0.875" stop-color="#2db600"/><stop offset="0.900" stop-color="#24b200"/><stop offset="0.925" stop-color="#1aaf00"/><stop offset="0.950" stop-color="#11ac00"/><stop offset="0.975" stop-color="#08a900"/><stop offset="1.000" stop-color="#00a600"/></linearGradient>
<rect x="666.8" y="487.6" width="24.1" height="373.4" fill="url(#cb)"/>
<text x="694.20" y="501.40" font-size="13.6" font-family='"Liberation Sans", Arial, Helvetica, sans-serif' fill="#1a1311" textLength="31.00" lengthAdjust="spacingAndGlyphs" stroke="#1a1311" stroke-width="0.3">7000</text>
<text x="694.20" y="552.30" font-size="13.6" font-family='"Liberation Sans", Arial, Helvetica, sans-serif' fill="#1a1311" textLength="31.00" lengthAdjust="spacingAndGlyphs" stroke="#1a1311" stroke-width="0.3">6000</text>
<text x="694.20" y="605.50" font-size="13.6" font-family='"Liberation Sans", Arial, Helvetica, sans-serif' fill="#1a1311" textLength="31.00" lengthAdjust="spacingAndGlyphs" stroke="#1a1311" stroke-width="0.3">5000</text>
<text x="694.20" y="659.00" font-size="13.6" font-family='"Liberation Sans", Arial, Helvetica, sans-serif' fill="#1a1311" textLength="31.00" lengthAdjust="spacingAndGlyphs" stroke="#1a1311" stroke-width="0.3">4000</text>
<text x="694.20" y="712.00" font-size="13.6" font-family='"Liberation Sans", Arial, Helvetica, sans-serif' fill="#1a1311" textLength="31.00" lengthAdjust="spacingAndGlyphs" stroke="#1a1311" stroke-width="0.3">3000</text>
<text x="694.20" y="765.80" font-size="13.6" font-family='"Liberation Sans", Arial, Helvetica, sans-serif' fill="#1a1311" textLength="31.00" lengthAdjust="spacingAndGlyphs" stroke="#1a1311" stroke-width="0.3">2000</text>
<text x="694.20" y="819.40" font-size="13.6" font-family='"Liberation Sans", Arial, Helvetica, sans-serif' fill="#1a1311" textLength="31.00" lengthAdjust="spacingAndGlyphs" stroke="#1a1311" stroke-width="0.3">1000</text>
<rect x="668.1" y="870.3" width="23.5" height="25.6" fill="#ff9289"/>
<rect x="668.1" y="901.1" width="23.5" height="26" fill="#00d7e0"/>
<text x="698.40" y="887.40" font-size="14.6" font-family='"DejaVu Sans", "Liberation Sans", sans-serif' fill="#1a1311" textLength="19.40" lengthAdjust="spacingAndGlyphs" stroke="#1a1311" stroke-width="0.2">PD</text>
<text x="698.40" y="918.40" font-size="14.6" font-family='"DejaVu Sans", "Liberation Sans", sans-serif' fill="#1a1311" textLength="21.20" lengthAdjust="spacingAndGlyphs" stroke="#1a1311" stroke-width="0.2">NC</text>
<path d="M104.10 494.41H98.30V497.75H104.10 M104.10 491.07H94.30V496.08H98.30 M104.10 504.43H101.30V507.77H104.10 M101.30 506.10H100.50V511.11H104.10 M104.10 517.79H100.60V521.12H104.10 M104.10 524.46H99.20V527.80H104.10 M100.60 519.46H98.14V526.13H99.20 M104.10 514.45H97.10V522.79H98.14 M100.50 508.60H95.80V518.62H97.10 M104.10 501.09H92.70V513.61H95.80 M94.30 493.57H92.20V507.35H92.70 M104.10 537.82H95.50V541.16H104.10 M104.10 534.48H88.20V539.49H95.50 M104.10 531.14H86.10V536.99H88.20 M92.20 500.46H85.20V534.07H86.10 M104.10 544.50H98.70V547.84H104.10 M104.10 551.18H100.29V554.52H104.10 M104.10 557.86H100.35V561.20H104.10 M100.29 552.85H98.99V559.53H100.35 M104.10 564.54H100.60V567.88H104.10 M98.99 556.19H97.60V566.21H100.60 M104.10 571.22H100.16V574.56H104.10 M100.16 572.89H99.10V577.90H104.10 M97.60 561.20H94.30V575.39H99.10 M104.10 587.91H101.44V591.25H104.10 M104.10 594.59H100.46V597.93H104.10 M101.44 589.58H99.66V596.26H100.46 M104.10 601.27H100.96V604.61H104.10 M99.66 592.92H98.86V602.94H100.96 M104.10 584.57H97.90V597.93H98.86 M104.10 607.95H98.38V611.29H104.10 M104.10 617.97H101.68V621.31H104.10 M104.10 627.99H101.67V631.33H104.10 M104.10 624.65H100.87V629.66H101.67 M101.68 619.64H100.07V627.15H100.87 M104.10 614.63H99.27V623.40H100.07 M98.38 609.62H96.60V619.01H99.27 M97.90 591.25H94.00V614.32H96.60 M104.10 581.24H90.10V602.79H94.00 M94.30 568.30H88.40V592.01H90.10 M98.70 546.17H87.00V580.15H88.40 M104.10 644.69H99.59V648.02H104.10 M99.59 646.36H98.79V651.36H104.10 M104.10 664.72H101.94V668.06H104.10 M104.10 661.38H100.85V666.39H101.94 M104.10 658.04H100.05V663.89H100.85 M104.10 654.70H99.25V660.97H100.05 M104.10 674.74H100.12V678.08H104.10 M104.10 681.42H101.44V684.76H104.10 M100.12 676.41H99.32V683.09H101.44 M104.10 671.40H98.42V679.75H99.32 M104.10 691.44H102.50V694.78H104.10 M102.50 693.11H102.02V698.12H104.10 M104.10 688.10H100.34V695.61H102.02 M104.10 701.46H101.16V704.80H104.10 M100.34 691.86H99.04V703.13H101.16 M104.10 711.48H102.07V714.81H104.10 M104.10 718.15H101.51V721.49H104.10 M102.07 713.14H100.71V719.82H101.51 M104.10 708.14H98.97V716.48H100.71 M104.10 728.17H100.80V731.51H104.10 M104.10 724.83H98.60V729.84H100.80 M98.60 727.34H97.80V734.85H104.10 M97.80 731.09H97.00V738.19H104.10 M104.10 741.53H99.41V744.87H104.10 M99.41 743.20H98.34V748.21H104.10 M104.10 751.55H100.84V754.89H104.10 M100.84 753.22H98.67V758.23H104.10 M104.10 761.57H100.60V764.91H104.10 M98.67 755.72H97.49V763.24H100.60 M104.10 771.59H102.50V774.92H104.10 M104.10 768.25H102.14V773.26H102.50 M102.14 770.75H100.56V778.26H104.10 M104.10 781.60H100.31V784.94H104.10 M100.56 774.51H97.92V783.27H100.31 M104.10 791.62H99.62V794.96H104.10 M104.10 788.28H98.68V793.29H99.62 M98.68 790.79H97.88V798.30H104.10 M104.10 811.66H102.50V815.00H104.10 M102.50 813.33H101.68V818.34H104.10 M101.68 815.83H100.88V821.68H104.10 M104.10 808.32H100.01V818.76H100.88 M104.10 804.98H98.98V813.54H100.01 M104.10 801.64H98.18V809.26H98.98 M104.10 828.36H100.60V831.70H104.10 M104.10 825.02H96.60V830.03H100.60 M98.18 805.45H93.52V827.52H96.60 M97.88 794.54H93.36V816.49H93.52 M97.92 778.89H93.20V805.52H93.36 M97.49 759.48H93.04V792.20H93.20 M98.34 745.70H92.88V775.84H93.04 M97.00 734.64H92.72V760.77H92.88 M98.97 712.31H92.56V747.71H92.72 M99.04 697.49H92.40V730.01H92.56 M98.42 675.58H91.40V713.75H92.40 M99.25 657.83H90.40V694.66H91.40 M98.79 648.86H89.40V676.25H90.40 M104.10 835.04H91.20V838.38H104.10 M104.10 641.35H86.70V835.10H91.20 M89.40 662.55H86.70 M104.10 638.01H85.00V816.30H86.70 M104.10 634.67H83.70V726.00H85.00 M87.00 563.16H75.90V680.33H83.70 M85.20 517.26H71.40V621.75H75.90 M104.10 845.05H101.20V848.39H104.10 M104.10 841.71H100.40V846.72H101.20 M100.40 844.22H99.60V851.73H104.10 M104.10 865.09H102.30V868.43H104.10 M104.10 871.77H103.14V875.11H104.10 M103.14 873.44H102.50V878.45H104.10 M102.50 875.94H102.50V881.79H104.10 M102.50 878.87H101.90V885.13H104.10 M102.30 866.76H101.10V882.00H101.90 M104.10 861.75H100.30V874.38H101.10 M104.10 858.41H99.50V868.07H100.30 M104.10 855.07H98.70V863.24H99.50 M99.60 847.98H96.20V859.16H98.70 M104.10 891.81H100.03V895.15H104.10 M104.10 898.49H102.06V901.83H104.10 M102.06 900.16H100.77V905.16H104.10 M100.03 893.48H99.10V902.66H100.77 M99.10 898.07H98.30V908.50H104.10 M104.10 888.47H93.40V903.29H98.30 M96.20 853.57H88.30V895.88H93.40 M104.10 911.84H102.00V915.18H104.10 M102.00 913.51H100.60V918.52H104.10 M104.10 925.20H101.68V928.54H104.10 M104.10 921.86H100.60V926.87H101.68 M100.60 916.02H98.70V924.37H100.60 M104.10 935.22H102.50V938.56H104.10 M104.10 931.88H101.91V936.89H102.50 M101.91 934.38H101.11V941.90H104.10 M101.11 938.14H99.60V945.24H104.10 M104.10 948.58H99.20V951.92H104.10 M99.60 941.69H96.60V950.25H99.20 M98.70 920.19H93.10V945.97H96.60 M104.10 955.26H99.65V958.60H104.10 M104.10 961.94H100.86V965.27H104.10 M99.65 956.93H98.70V963.61H100.86 M104.10 968.61H101.30V971.95H104.10 M104.10 978.63H101.75V981.97H104.10 M104.10 975.29H100.60V980.30H101.75 M104.10 985.31H101.70V988.65H104.10 M104.10 991.99H100.90V995.33H104.10 M101.70 986.98H100.10V993.66H100.90 M100.60 977.80H98.70V990.32H100.10 M101.30 970.28H94.90V984.06H98.70 M98.70 960.27H91.50V977.17H94.90 M93.10 933.08H79.50V968.72H91.50 M88.30 874.72H69.50V950.90H79.50 M71.40 569.51H60.20V912.81H69.50" fill="none" stroke="#000" stroke-width="1.1" stroke-linejoin="miter"/>
</svg>
</body></html>
